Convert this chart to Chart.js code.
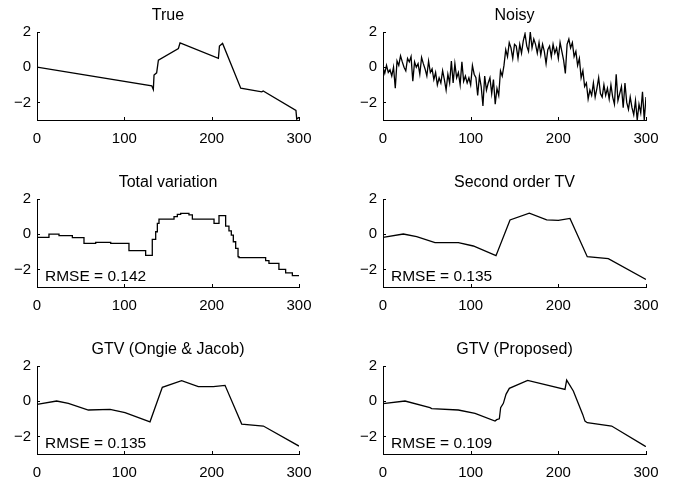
<!DOCTYPE html>
<html>
<head>
<meta charset="utf-8">
<script src="https://cdn.jsdelivr.net/npm/chart.js@4"></script>
<style>
  html, body { margin: 0; padding: 0; background: #fff; overflow: hidden; }
  body { width: 678px; height: 479px; position: relative; }
  .panel { position: absolute; width: 339px; height: 145px; }
</style>
</head>
<body>
<div class="panel" style="left:0;top:0"><canvas id="c0"></canvas></div>
<div class="panel" style="left:339px;top:0"><canvas id="c1"></canvas></div>
<div class="panel" style="left:0;top:167px"><canvas id="c2"></canvas></div>
<div class="panel" style="left:339px;top:167px"><canvas id="c3"></canvas></div>
<div class="panel" style="left:0;top:334px"><canvas id="c4"></canvas></div>
<div class="panel" style="left:339px;top:334px"><canvas id="c5"></canvas></div>
<script>
const titles = ['True', 'Noisy', 'Total variation', 'Second order TV', 'GTV (Ongie & Jacob)', 'GTV (Proposed)'];
const notes = [null, null, 'RMSE = 0.142', 'RMSE = 0.135', 'RMSE = 0.135', 'RMSE = 0.109'];
const xTicks = [0, 100, 200, 300];
const yTicks = [-2, 0, 2];

// [x, y] breakpoints
const trueSignal = [[0, 0], [131.4, -1.06], [133.2, -1.27], [134, -0.45], [137, -0.32], [139, 0.4],
  [161.9, 1.06], [163.8, 1.38], [207.7, 0.5], [208.9, 1.2], [212.5, 1.35], [233.3, -1.19],
  [257.4, -1.4], [259, -1.35], [296.5, -2.45], [297.4, -2.95], [300, -2.85]];

// noisy samples every 2 steps, x = 0..300
const noisy = [0.0, -0.35, 0.1, -0.3, -0.15, -0.5, 0.0, -1.2, 0.35, 0.1,
  0.65, 0.3, 0.0, -0.2, 0.5, 0.3, 0.6, -0.8, 0.3, 0.0,
  0.2, -0.4, 0.55, 0.2, -0.1, -0.5, 0.35, -0.3, -0.1, -0.7,
  -0.3, -1.0, -0.6, -0.9, -0.2, -0.7, -1.3, -0.4, -0.9, 0.35,
  -0.9, 0.2, -0.6, -0.3, -1.0, 0.3, -0.8, -0.5, -0.9, -0.6,
  -1.0, 0.1, -0.4, -0.6, -1.6, -0.5, -1.1, -2.2, -0.5, -1.3,
  -0.9, -0.6, -1.5, -0.7, -2.1, -1.2, -1.6, -0.2, -0.5, 0.1,
  1.0, 0.6, 1.4, 1.1, 0.5, 1.3, 1.2, 0.5, 1.3, 0.8,
  1.5, 1.9, 1.2, 0.9, 2.0, 1.1, 1.6, 1.3, 0.8, 1.4,
  0.7, 1.3, 0.9, 0.2, 1.0, 1.2, 0.6, 1.3, 0.8, 1.1,
  0.5, 1.4, 0.9, 0.4, -0.35, 1.3, 1.6, 1.1, 1.4, 0.6,
  0.9, 0.1, 0.5, -0.6, -0.2, -1.1, -0.9, -1.8, -1.3, -1.6,
  -0.9, -1.7, -1.2, -0.6, -1.5, -1.7, -1.0, -1.6, -1.2, -1.8,
  -1.0, -1.7, -2.1, -0.4, -1.9, -1.5, -1.1, -2.3, -0.9, -2.0,
  -2.4, -1.7, -2.3, -2.7, -1.9, -3.0, -2.1, -2.6, -1.4, -3.0,
  -1.7];

// piecewise constant: each y holds from its x to the next x
const tvSignal = [[0, -0.18], [13.7, 0.0], [25.2, -0.08], [40.5, -0.2], [53.8, -0.52], [67.2, -0.47],
  [84.4, -0.52], [105.3, -0.93], [124.4, -1.2], [132, -0.29], [135.9, 0.14], [137.8, 0.62],
  [139.7, 0.86], [156.9, 1.0], [160.7, 1.13], [164.5, 1.18], [174, 1.1], [177.9, 0.86],
  [202.7, 0.62], [208.4, 1.05], [216, 0.46], [219.8, 0.19], [222.5, -0.05], [224.8, -0.43],
  [227.5, -0.8], [230.2, -1.27], [231.3, -1.33], [261.8, -1.5], [265.6, -1.66], [277, -2.0],
  [284.7, -2.2], [292.4, -2.35], [300, -2.38]];

const tv2Signal = [[0, -0.18], [23.2, 0.01], [38.4, -0.14], [59.3, -0.48], [86, -0.48], [103, -0.67],
  [128.9, -1.22], [144.9, 0.81], [166.9, 1.19], [186.7, 0.81], [200, 0.79], [213.3, 0.9],
  [233, -1.28], [257, -1.39], [300, -2.57]];

const gtvOJ = [[0, -0.18], [22.5, 0.01], [35.9, -0.12], [58.8, -0.5], [83.6, -0.46], [100.8, -0.65],
  [129.4, -1.17], [143.5, 0.79], [165.6, 1.17], [184.7, 0.83], [201.9, 0.83], [215.3, 0.9],
  [234.4, -1.3], [259.2, -1.41], [300, -2.55]];

const gtvProposed = [[0, -0.14], [25.1, 0.01], [53.6, -0.37], [55.5, -0.42], [85.9, -0.5], [105, -0.69],
  [127.8, -1.13], [129.7, -1.05], [132.7, -1.0], [134.2, -0.37], [137.3, -0.12], [140.3, 0.39],
  [144.1, 0.73], [165, 1.18], [207.6, 0.67], [209.5, 1.2], [217.1, 0.58], [227.8, -0.75],
  [230.4, -1.13], [233, -1.22], [260.8, -1.41], [298.9, -2.55], [300, -2.57]];

const toPoints = arr => arr.map(p => ({ x: p[0], y: p[1] }));
const series = [
  toPoints(trueSignal),
  noisy.map((v, i) => ({ x: i * 2, y: v })),
  toPoints(tvSignal),
  toPoints(tv2Signal),
  toPoints(gtvOJ),
  toPoints(gtvProposed)
];

const FONT = '"Liberation Sans", Arial, Helvetica, sans-serif';

// titles, RMSE notes and inward tick marks
const decor = {
  id: 'decor',
  afterDraw(chart, args, opts) {
    const { ctx, chartArea: a, scales: { x, y } } = chart;
    ctx.save();
    ctx.strokeStyle = '#000';
    ctx.lineWidth = 1;
    ctx.beginPath();
    x.ticks.forEach(t => {
      const px = Math.round(x.getPixelForValue(t.value)) + 0.5;
      ctx.moveTo(px, a.bottom);
      ctx.lineTo(px, a.bottom - 3);
    });
    y.ticks.forEach(t => {
      const py = Math.round(y.getPixelForValue(t.value)) + 0.5;
      ctx.moveTo(a.left, py);
      ctx.lineTo(a.left + 3, py);
    });
    ctx.stroke();

    ctx.fillStyle = '#000';
    ctx.font = '16px ' + FONT;
    ctx.textAlign = 'center';
    ctx.textBaseline = 'alphabetic';
    ctx.fillText(opts.title, (a.left + a.right) / 2, a.top - 12);
    if (opts.note) {
      ctx.font = '15.5px ' + FONT;
      ctx.textAlign = 'left';
      ctx.fillText(opts.note, a.left + 8, a.bottom - 6.5);
    }
    ctx.restore();
  }
};

function makeChart(i) {
  const rightCol = i % 2 === 1;
  new Chart(document.getElementById('c' + i), {
    type: 'line',
    data: {
      datasets: [{
        data: series[i],
        borderColor: '#000',
        borderWidth: 1.3,
        pointRadius: 0,
        tension: 0,
        fill: false,
        stepped: i === 2 ? 'before' : false
      }]
    },
    options: {
      responsive: true,
      maintainAspectRatio: false,
      animation: false,
      events: [],
      layout: {
        padding: { left: rightCol ? 14 : 7, right: rightCol ? 32 : 40, top: 32, bottom: 0 }
      },
      plugins: {
        legend: { display: false },
        tooltip: { enabled: false },
        decor: { title: titles[i], note: notes[i] }
      },
      scales: {
        x: {
          type: 'linear',
          min: 0,
          max: 300,
          afterBuildTicks: s => { s.ticks = xTicks.map(v => ({ value: v })); },
          afterFit: s => { s.height = 25; },
          grid: { display: false, drawTicks: false },
          border: { display: true, color: '#000', width: 1 },
          ticks: { color: '#000', font: { family: FONT, size: 15 }, padding: 10, maxRotation: 0 }
        },
        y: {
          min: -3,
          max: 2,
          afterBuildTicks: s => { s.ticks = yTicks.map(v => ({ value: v })); },
          afterFit: s => { s.width = 30; },
          grid: { display: false, drawTicks: false },
          border: { display: true, color: '#000', width: 1 },
          ticks: {
            color: '#000',
            font: { family: FONT, size: 15 },
            padding: 6,
            callback: v => (v < 0 ? '\u2212' + Math.abs(v) : String(v))
          }
        }
      }
    },
    plugins: [decor]
  });
}

for (let i = 0; i < 6; i++) makeChart(i);
</script>
</body>
</html>
